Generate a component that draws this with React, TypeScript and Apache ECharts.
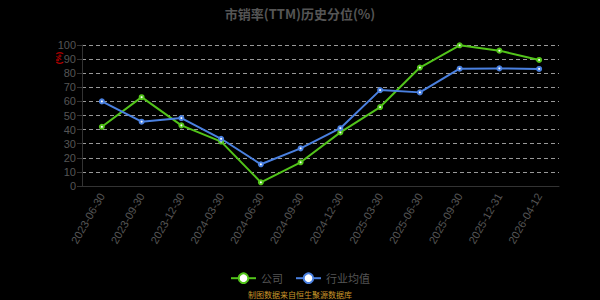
import React, { useEffect, useRef } from "react";
import * as echarts from "echarts";

const categories = ["2023-06-30","2023-09-30","2023-12-30","2024-03-30","2024-06-30","2024-09-30","2024-12-30","2025-03-30","2025-06-30","2025-09-30","2025-12-31","2026-04-12"];
const companyValues = [42, 63, 43, 31.5, 2.6, 16.8, 38, 56, 84, 99.8, 96, 89.4];
const industryValues = [60, 45.6, 48.2, 33.5, 15.4, 26.7, 41, 68, 66.4, 83.2, 83.4, 83];
const yTicks = { min: 0, max: 100, interval: 10 };

export default function App() {
  const ref = useRef<HTMLDivElement>(null);
  useEffect(() => {
    const chart = echarts.init(ref.current!, null, { renderer: "svg" });
    chart.setOption({
      animation: false,
      backgroundColor: "#000",
      title: {
        text: "市销率(TTM)历史分位(%)",
        left: "center",
        top: 2,
        textStyle: { color: "#555", fontSize: 13, fontWeight: "bold", fontFamily: "Noto Sans CJK SC" },
      },
      legend: {
        bottom: 11,
        left: "center",
        itemWidth: 25,
        itemHeight: 12,
        itemGap: 12,
        textStyle: { color: "#555", fontSize: 11, fontFamily: "Noto Sans CJK SC" },
        data: ["公司", "行业均值"],
      },
      grid: { left: 82, right: 41, top: 45, bottom: 114 },
      xAxis: {
        type: "category",
        data: categories,
        boundaryGap: true,
        axisLine: { lineStyle: { color: "#333" } },
        axisTick: { lineStyle: { color: "#333" } },
        axisLabel: { color: "#555", fontSize: 11, rotate: 60, margin: 8 },
      },
      yAxis: {
        type: "value",
        min: yTicks.min,
        max: yTicks.max,
        interval: yTicks.interval,
        axisLine: { show: true, lineStyle: { color: "#333" } },
        axisTick: { show: true, lineStyle: { color: "#333" } },
        axisLabel: { color: "#555", fontSize: 11, margin: 6 },
        splitLine: { lineStyle: { color: "#999", type: [4, 3], width: 1 } },
      },
      graphic: [
        {
          type: "text",
          x: 58,
          y: 58,
          rotation: Math.PI / 2,
          style: { text: "(%)", fill: "#c00", fontSize: 8, fontWeight: "bold", textAlign: "center", textVerticalAlign: "middle" },
        },
        {
          type: "text",
          left: "center",
          top: 290,
          style: { text: "制图数据来自恒生聚源数据库", fill: "#c8962a", fontSize: 8, fontFamily: "Noto Sans CJK SC" },
        },
      ],
      series: [
        {
          name: "公司",
          type: "line",
          data: companyValues,
          symbol: "emptyCircle",
          symbolSize: 4,
          color: "#52c41a",
          lineStyle: { width: 2, color: "#52c41a" },
          itemStyle: { color: "#52c41a", borderColor: "#52c41a", borderWidth: 1 },
        },
        {
          name: "行业均值",
          type: "line",
          data: industryValues,
          symbol: "emptyCircle",
          symbolSize: 4,
          color: "#4a80e0",
          lineStyle: { width: 2, color: "#4a80e0" },
          itemStyle: { color: "#4a80e0", borderColor: "#4a80e0", borderWidth: 1 },
        },
      ],
    });
    return () => chart.dispose();
  }, []);
  return <div ref={ref} style={{ width: 600, height: 300, position: "fixed", left: 0, top: 0 }} />;
}
